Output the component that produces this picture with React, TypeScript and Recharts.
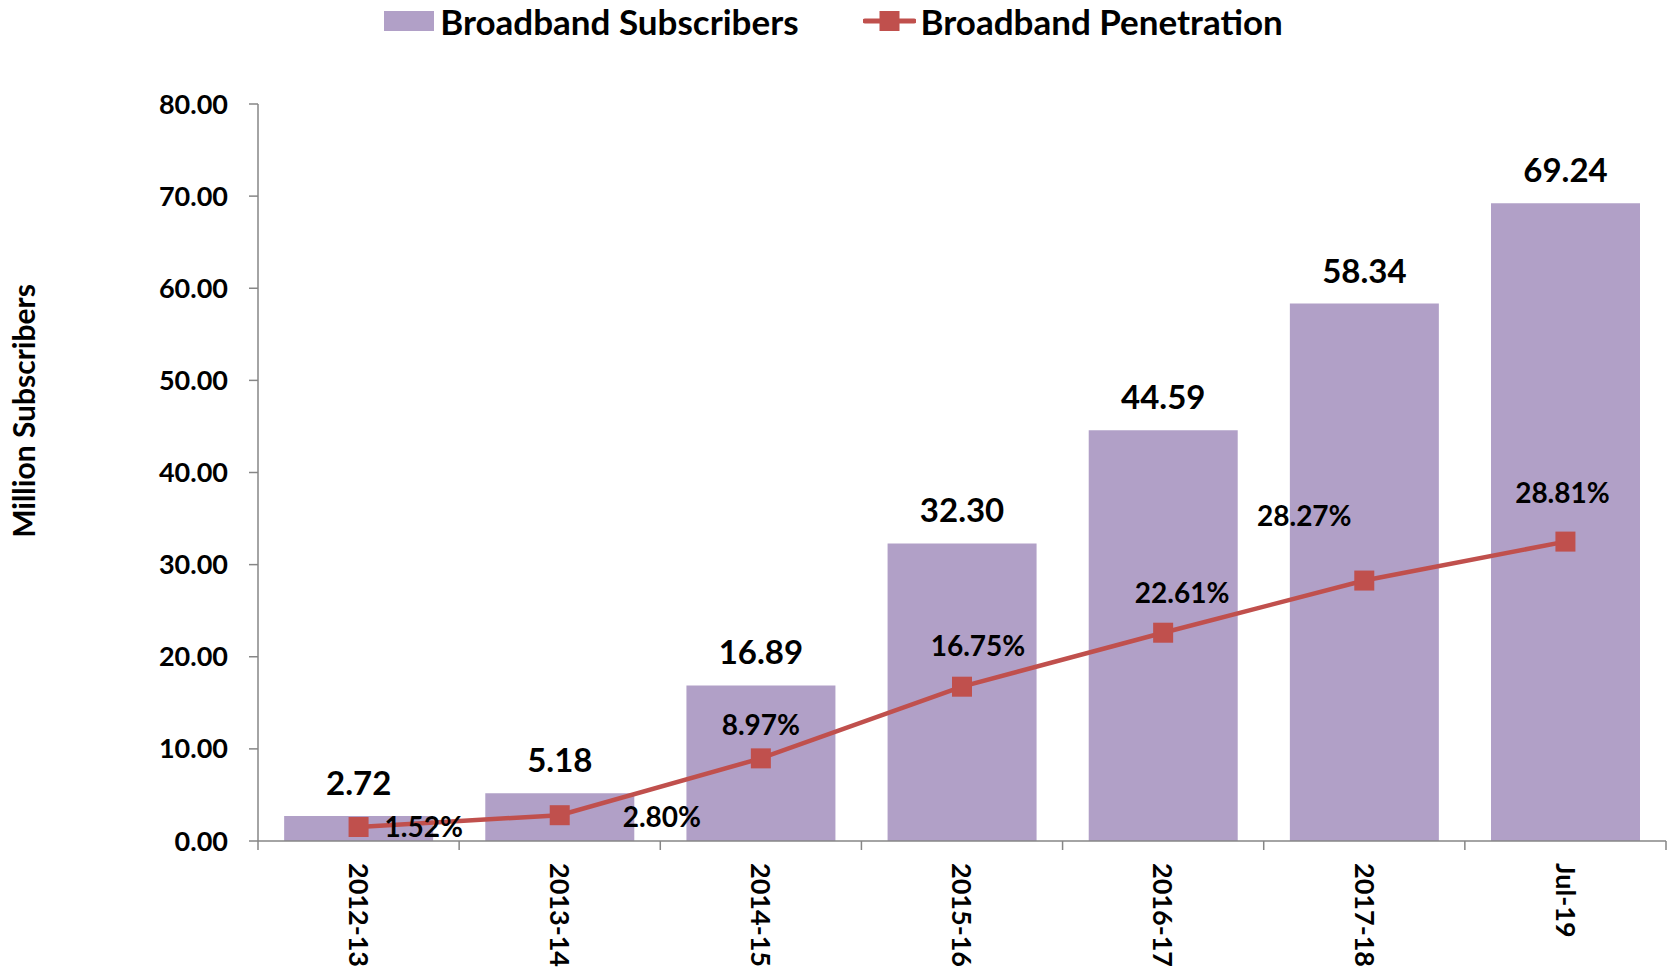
import React from 'react';
import { ComposedChart, Bar, Line, XAxis, YAxis, Legend, LabelList } from 'recharts';

const categories = ['2012-13', '2013-14', '2014-15', '2015-16', '2016-17', '2017-18', 'Jul-19'];
const subscribers = [2.72, 5.18, 16.89, 32.3, 44.59, 58.34, 69.24];
const penetrationPlotted = [1.52, 2.8, 8.97, 16.75, 22.61, 28.27, 32.5];
const penetrationLabels = ['1.52%', '2.80%', '8.97%', '16.75%', '22.61%', '28.27%', '28.81%'];
const yTicks = [0, 10, 20, 30, 40, 50, 60, 70, 80];

const data = categories.map((c, i) => ({ cat: c, subs: subscribers[i], pen: penetrationPlotted[i] }));

const FONT = 'Lato';
const BAR_COLOR = '#B1A0C7';
const LINE_COLOR = '#C0504D';
const AXIS_COLOR = '#868686';

const penLabelPlacement = [
  { anchor: 'start', dx: 26, dy: 0 },
  { anchor: 'start', dx: 63, dy: 2 },
  { anchor: 'middle', dx: 0, dy: -33 },
  { anchor: 'middle', dx: 16, dy: -41 },
  { anchor: 'middle', dx: 19, dy: -40 },
  { anchor: 'middle', dx: -60, dy: -65 },
  { anchor: 'middle', dx: -3, dy: -49 },
];

const XTick = (props: any) => {
  const { x, y, payload, index, visibleTicksCount, width } = props;
  const band = width && visibleTicksCount ? width / visibleTicksCount : 0;
  return (
    <g>
      {band > 0 && (
        <line x1={x - band / 2} y1={y} x2={x - band / 2} y2={y + 9} stroke={AXIS_COLOR} strokeWidth={1.5} />
      )}
      {band > 0 && index === visibleTicksCount - 1 && (
        <line x1={x + band / 2} y1={y} x2={x + band / 2} y2={y + 9} stroke={AXIS_COLOR} strokeWidth={1.5} />
      )}
      <text
        x={x}
        y={y + 22}
        transform={`rotate(90, ${x}, ${y + 22})`}
        textAnchor="start"
        dy="0.36em"
        fontFamily={FONT}
        fontWeight={700}
        fontSize={27}
        fill="#000"
      >
        {payload.value}
      </text>
    </g>
  );
};

const PenLabel = (props: any) => {
  const { x, y, index } = props;
  const p = penLabelPlacement[index];
  return (
    <text
      x={x + p.dx}
      y={y + p.dy}
      dy="0.36em"
      textAnchor={p.anchor}
      fontFamily={FONT}
      fontWeight={700}
      fontSize={28}
      fill="#000"
    >
      {penetrationLabels[index]}
    </text>
  );
};

const SquareDot = (props: any) => {
  const { cx, cy, index } = props;
  return <rect key={`d${index}`} x={cx - 10} y={cy - 10} width={20} height={20} fill={LINE_COLOR} />;
};

const LegendContent = () => (
  <div
    style={{
      height: 104,
      display: 'flex',
      justifyContent: 'center',
      alignItems: 'flex-start',
      fontFamily: FONT,
      fontWeight: 700,
      fontSize: 35,
      color: '#000',
    }}
  >
    <div style={{ display: 'flex', alignItems: 'center', height: 42 }}>
      <div style={{ width: 50, height: 20, background: BAR_COLOR, marginRight: 6 }} />
      <span>Broadband Subscribers</span>
      <svg width={53} height={22} style={{ marginLeft: 64, marginRight: 5 }}>
        <line x1={2} y1={11} x2={51} y2={11} stroke={LINE_COLOR} strokeWidth={5} strokeLinecap="round" />
        <rect x={16.5} y={1} width={20} height={20} fill={LINE_COLOR} />
      </svg>
      <span>Broadband Penetration</span>
    </div>
  </div>
);

const YTitle = (props: any) => {
  const cx = 24;
  const cy = 411;
  return (
    <text
      x={cx}
      y={cy}
      transform={`rotate(-90, ${cx}, ${cy})`}
      textAnchor="middle"
      dy="0.36em"
      fontFamily={FONT}
      fontWeight={700}
      fontSize={30}
      fill="#000"
    >
      Million Subscribers
    </text>
  );
};

export default function App() {
  return (
    <div style={{ position: 'absolute', left: 0, top: 0, width: 1667, height: 970, background: '#fff' }}>
      <ComposedChart
        width={1667}
        height={970}
        data={data}
        margin={{ top: 0, right: 1, bottom: 0, left: 0 }}
        barCategoryGap="13%"
      >
        <Legend verticalAlign="top" align="center" content={<LegendContent />} wrapperStyle={{ top: 0, left: 0, width: 1667 }} />
        <XAxis
          dataKey="cat"
          height={129}
          tick={<XTick />}
          tickLine={false}
          tickSize={0}
          tickMargin={0}
          axisLine={{ stroke: AXIS_COLOR, strokeWidth: 1.5 }}
          interval={0}
        />
        <YAxis
          width={258}
          domain={[0, 80]}
          ticks={yTicks}
          allowDataOverflow
          tickFormatter={(v: number) => v.toFixed(2)}
          tick={{ fill: '#000', fontFamily: FONT, fontWeight: 700, fontSize: 27 }}
          tickSize={9}
          tickMargin={21}
          tickLine={{ stroke: AXIS_COLOR, strokeWidth: 1.5 }}
          axisLine={{ stroke: AXIS_COLOR, strokeWidth: 1.5 }}
          label={<YTitle />}
        />
        <Bar dataKey="subs" fill={BAR_COLOR} isAnimationActive={false}>
          <LabelList
            dataKey="subs"
            position="top"
            offset={21}
            formatter={(v: any) => Number(v).toFixed(2)}
            style={{ fontFamily: FONT, fontWeight: 700, fontSize: 33, fill: '#000' }}
          />
        </Bar>
        <Line
          dataKey="pen"
          stroke={LINE_COLOR}
          strokeWidth={4.5}
          dot={<SquareDot />}
          activeDot={false}
          isAnimationActive={false}
        >
          <LabelList dataKey="pen" content={<PenLabel />} />
        </Line>
      </ComposedChart>
    </div>
  );
}
